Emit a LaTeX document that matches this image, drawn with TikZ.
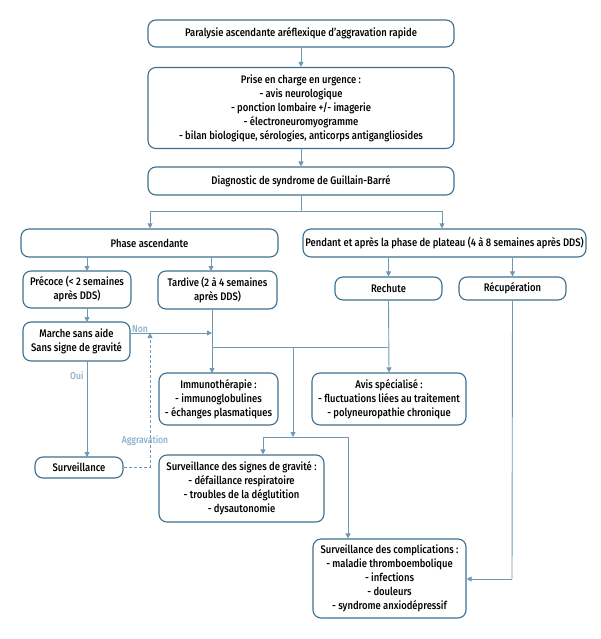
\documentclass[tikz,border=0pt]{standalone}
\usepackage{fontspec}
\setmainfont{Fira Sans Medium}[FakeStretch=0.86]
\usetikzlibrary{arrows.meta}
\definecolor{boxc}{HTML}{3D6E8F}
\definecolor{linec}{HTML}{6F98B4}
\definecolor{labc}{HTML}{8DAFC8}
\tikzset{
  box/.style={draw=boxc, line width=1.1pt, rounded corners=8pt, align=center, inner sep=1pt,
    font=\fontsize{11}{14}\selectfont, text=black},
  conn/.style={draw=linec, line width=0.9pt},
  arr/.style={conn, -{Triangle[length=5pt,width=5pt]}},
  dconn/.style={conn, dashed, dash pattern=on 3pt off 2pt},
  lab/.style={font=\fontsize{10}{11}\selectfont, text=labc, inner sep=1pt}
}
\begin{document}
\begin{tikzpicture}[x=1pt,y=-1pt]
\useasboundingbox (0,0) rectangle (600,639);
\node[box, minimum width=306pt, minimum height=27pt] (n1) at (301,33.5) {Paralysie ascendante aréflexique d’aggravation rapide};
\node[box, minimum width=306pt, minimum height=81pt] (n2) at (301,108) {Prise en charge en urgence :\\- avis neurologique\\- ponction lombaire +/- imagerie\\- électroneuromyogramme\\- bilan biologique, sérologies, anticorps antigangliosides};
\node[box, minimum width=306pt, minimum height=28pt] (n3) at (301,181) {Diagnostic de syndrome de Guillain-Barré};
\node[box, minimum width=257pt, minimum height=28pt] (pa) at (149.5,243) {Phase ascendante};
\node[box, minimum width=283pt, minimum height=28pt] (pp) at (444.5,243) {Pendant et après la phase de plateau (4 à 8 semaines après DDS)};
\node[box, minimum width=108pt, minimum height=37pt] (pre) at (77,289.5) {Précoce (< 2 semaines\\après DDS)};
\node[box, minimum width=119pt, minimum height=38pt] (tar) at (217.5,290) {Tardive (2 à 4 semaines\\après DDS)};
\node[box, minimum width=107pt, minimum height=23pt] (rec) at (388.5,288.5) {Rechute};
\node[box, minimum width=107pt, minimum height=23pt] (recup) at (512.5,288.5) {Récupération};
\node[box, minimum width=107pt, minimum height=39pt] (mar) at (76.5,341.5) {Marche sans aide\\Sans signe de gravité};
\node[box, minimum width=119pt, minimum height=52pt] (imm) at (218.5,399) {Immunothérapie :\\- immunoglobulines\\- échanges plasmatiques};
\node[box, minimum width=154pt, minimum height=52pt] (avis) at (389,399) {Avis spécialisé :\\- fluctuations liées au traitement\\- polyneuropathie chronique};
\node[box, minimum width=88pt, minimum height=21pt] (surv) at (79,467.5) {Surveillance};
\node[box, minimum width=165pt, minimum height=67pt] (ssg) at (241.5,488.5) {Surveillance des signes de gravité :\\- défaillance respiratoire\\- troubles de la déglutition\\- dysautonomie};
\node[box, minimum width=153pt, minimum height=79pt] (sc) at (389.5,578.5) {Surveillance des complications :\\- maladie thromboembolique\\- infections\\- douleurs\\- syndrome anxiodépressif};
% coordinates
\coordinate (b1) at (301,211);
\coordinate (bl) at (150,211);
\coordinate (br) at (442,211);
\coordinate (nonend) at (212,333);
\coordinate (j1) at (212,347);
\coordinate (j2) at (388,347);
\coordinate (j3) at (293,347);
\coordinate (k1) at (293,437);
\coordinate (kl) at (263,437);
\coordinate (kr) at (348,437);
\coordinate (rc) at (512,579);
\coordinate (dg) at (150,467.5);
\coordinate (dgt) at (150,333);
% connectors
\draw[arr] (n1) -- (n2);
\draw[arr] (n2) -- (n3);
\draw[conn] (n3.south) -- (b1);
\draw[conn] (bl) -- (br);
\draw[arr] (bl) -- (bl |- pa.north);
\draw[arr] (br) -- (br |- pp.north);
\draw[arr] (87,257) -- (87,271);
\draw[arr] (211,257) -- (211,271);
\draw[arr] (rec.north |- pp.south) -- (rec.north);
\draw[arr] (recup.north |- pp.south) -- (recup.north);
\draw[arr] (87,308) -- (87,322);
\draw[arr] (212,309) -- (212 ,373);
\draw[arr] (mar.east |- nonend) -- (nonend) node[pos=0, lab, anchor=south west, xshift=0pt, yshift=-1pt] {Non};
\draw[conn] (j1) -- (j2);
\draw[arr] (rec.south) -- (avis.north);
\draw[arr] (j3) -- (k1);
\draw[conn] (kl) -- (kr);
\draw[arr] (kl) -- (kl |- ssg.north);
\draw[arr] (kr) -- (kr |- sc.north);
\draw[conn] (recup.south) -- (rc);
\draw[arr] (rc) -- (sc.east |- rc);
\draw[arr] (87,361) -- (87,457) node[pos=0.15, lab, anchor=east, xshift=-2pt] {Oui};
\draw[dconn] (surv.east) -- (dg);
\draw[dconn, -{Triangle[length=5pt,width=5pt]}] (dg) -- (dgt);
\node[lab] (agg) at (145,441) {Aggravation};
\end{tikzpicture}
\end{document}
